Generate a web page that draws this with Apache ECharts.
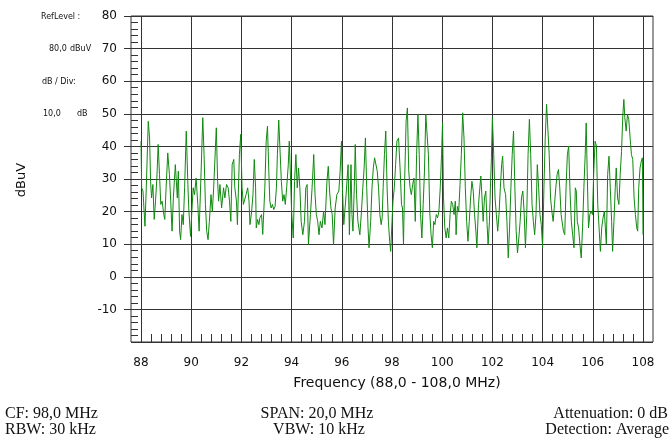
<!DOCTYPE html>
<html><head><meta charset="utf-8">
<script src="https://cdn.jsdelivr.net/npm/echarts@6/dist/echarts.min.js"></script>
<style>html,body{margin:0;padding:0;background:#fff}#c{width:670px;height:443px}</style>
</head><body><div id="c"></div>
<script>
// Frequency (MHz) of each trace vertex
const frequencies = [
88.000,88.026,88.079,88.158,88.211,88.289,88.342,88.382,88.421,88.474,88.526,88.579,88.632,88.684,88.737,88.789,88.842,88.908,88.947,89.000,
89.066,89.132,89.184,89.237,89.289,89.368,89.447,89.487,89.539,89.579,89.632,89.684,89.737,89.803,89.868,89.908,89.974,90.026,90.079,90.132,
90.197,90.263,90.316,90.395,90.461,90.513,90.566,90.618,90.671,90.724,90.789,90.842,90.895,91.000,91.053,91.092,91.145,91.211,91.289,91.342,
91.408,91.474,91.526,91.579,91.632,91.697,91.737,91.803,91.842,91.921,91.974,92.026,92.079,92.184,92.250,92.303,92.342,92.408,92.461,92.513,
92.566,92.592,92.645,92.697,92.737,92.803,92.850,92.934,92.987,93.039,93.092,93.132,93.184,93.237,93.289,93.342,93.395,93.434,93.487,93.539,
93.592,93.645,93.697,93.750,93.803,93.868,93.908,93.961,94.000,94.066,94.118,94.171,94.224,94.276,94.329,94.382,94.447,94.513,94.566,94.618,
94.671,94.750,94.816,94.882,94.934,94.987,95.039,95.092,95.145,95.211,95.276,95.329,95.408,95.461,95.513,95.566,95.618,95.671,95.737,95.803,
95.882,95.934,95.987,96.026,96.079,96.171,96.250,96.303,96.366,96.405,96.444,96.497,96.536,96.588,96.641,96.719,96.784,96.837,96.889,96.941,
96.993,97.046,97.085,97.150,97.203,97.255,97.307,97.359,97.412,97.464,97.516,97.569,97.608,97.647,97.699,97.752,97.804,97.856,97.908,97.948,
98.000,98.039,98.092,98.144,98.196,98.261,98.327,98.379,98.418,98.458,98.497,98.562,98.614,98.667,98.719,98.771,98.824,98.876,98.928,98.980,
99.033,99.085,99.137,99.190,99.242,99.294,99.346,99.399,99.451,99.503,99.556,99.608,99.660,99.712,99.765,99.817,99.869,99.922,99.974,100.013,
100.052,100.105,100.157,100.209,100.261,100.314,100.366,100.418,100.471,100.523,100.553,100.605,100.658,100.711,100.763,100.816,100.868,100.921,100.974,101.026,
101.079,101.132,101.184,101.237,101.289,101.342,101.382,101.447,101.500,101.539,101.579,101.632,101.684,101.737,101.789,101.829,101.882,101.921,101.961,102.000,
102.053,102.105,102.158,102.211,102.263,102.316,102.368,102.408,102.461,102.526,102.579,102.632,102.684,102.737,102.789,102.842,102.895,102.947,103.000,103.053,
103.105,103.158,103.211,103.263,103.316,103.368,103.421,103.474,103.526,103.579,103.632,103.684,103.737,103.789,103.842,103.895,103.947,104.000,104.053,104.105,
104.158,104.211,104.263,104.316,104.368,104.421,104.474,104.526,104.579,104.632,104.684,104.737,104.776,104.829,104.882,104.934,104.987,105.039,105.092,105.145,
105.197,105.250,105.303,105.342,105.382,105.434,105.487,105.539,105.592,105.645,105.697,105.737,105.776,105.829,105.882,105.934,105.987,106.039,106.092,106.145,
106.197,106.250,106.303,106.355,106.408,106.461,106.500,106.539,106.592,106.645,106.697,106.750,106.789,106.842,106.895,106.934,106.987,107.039,107.092,107.145,
107.197,107.237,107.276,107.329,107.382,107.434,107.487,107.539,107.592,107.645,107.697,107.750,107.789,107.829,107.882,107.934,107.974,107.990,108.000
];
// Level (dBuV) of each trace vertex
const levels = [
41.6,27.3,26.3,15.5,27.3,47.7,42.6,29.3,24.2,28.3,17.6,23.2,30.3,40.6,31.4,22.2,23.2,19.1,17.6,27.3,
38.0,31.4,23.2,14.0,24.2,34.4,24.2,32.4,14.0,11.4,19.1,16.0,27.3,44.7,28.3,20.1,12.4,20.1,27.3,25.2,
30.3,22.2,14.0,32.4,48.8,37.5,22.2,14.0,11.4,17.0,25.2,20.1,27.3,45.7,29.3,23.2,28.3,21.1,27.3,24.2,
28.3,27.3,23.2,17.0,34.4,36.0,27.3,23.2,16.0,37.5,43.7,27.3,22.2,25.2,27.3,23.2,16.0,20.1,25.2,36.0,
27.3,15.0,17.6,16.0,18.1,19.1,13.0,27.3,41.6,46.2,32.4,23.2,21.1,22.2,20.6,21.6,27.3,37.5,48.1,48.5,
29.3,23.2,25.2,22.2,27.3,34.4,41.6,29.3,20.1,11.9,29.3,37.5,27.3,33.4,27.3,17.0,12.9,17.0,27.3,28.3,
9.9,19.1,27.3,37.5,25.2,19.1,17.0,12.9,17.0,15.0,20.1,16.0,29.3,33.9,26.3,21.1,19.1,9.9,21.1,25.2,
26.3,32.4,41.6,27.3,16.0,25.2,34.4,12.9,34.4,19.1,14.0,27.3,40.6,25.2,17.0,12.9,20.1,27.3,33.4,42.6,
27.3,15.0,8.9,17.0,27.3,33.4,36.5,36.0,32.4,27.3,19.1,16.0,18.1,27.3,37.5,44.7,27.3,17.0,10.9,7.8,
17.0,23.2,27.3,34.4,41.6,42.6,32.4,22.2,21.1,10.0,27.3,47.7,51.8,32.4,27.3,25.2,28.3,30.3,17.0,37.5,
49.8,37.5,19.1,11.9,22.2,32.4,49.8,50.3,37.5,20.1,12.9,8.9,17.0,16.0,19.1,18.1,20.1,27.3,37.5,47.2,
24.2,15.0,11.9,15.0,11.9,19.1,23.2,22.2,19.1,23.2,12.9,21.6,20.1,28.3,37.5,50.3,42.6,27.3,17.0,10.9,
17.0,24.2,29.3,26.3,19.1,14.0,8.9,22.2,27.3,30.9,25.2,17.0,24.2,26.3,16.0,9.9,17.0,27.3,36.5,48.8,
37.5,24.2,19.1,14.0,19.1,27.3,34.4,37.0,27.3,25.2,17.0,5.8,15.0,27.3,37.5,44.7,27.3,14.0,7.3,11.9,
17.0,24.2,26.3,20.1,8.9,19.1,37.5,48.3,37.5,22.2,17.0,12.9,19.1,34.4,27.3,19.1,16.0,9.0,27.3,42.6,
52.9,52.4,37.5,24.2,20.1,17.0,22.2,27.3,31.4,32.9,27.3,19.1,19.1,14.0,12.9,27.3,37.5,40.1,26.3,17.0,
12.9,8.9,27.3,26.3,17.0,15.0,9.9,5.8,15.0,27.3,37.5,47.2,32.4,15.0,19.1,20.1,19.1,32.4,41.6,40.1,
22.2,15.0,7.8,15.0,18.1,20.1,15.0,9.9,31.4,37.0,27.3,17.0,7.8,17.0,27.3,33.4,24.2,22.2,31.4,38.5,
49.8,54.4,48.8,44.7,49.8,48.3,42.6,37.5,36.0,24.2,19.1,15.0,14.0,27.3,33.4,35.5,36.5,24.2,12.9
];
const xTickValues = [88,90,92,94,96,98,100,102,104,106,108];
const yTickValues = [-10,0,10,20,30,40,50,60,70,80];
const refLevelText = ['RefLevel :', '80,0', 'dBuV', 'dB / Div:', '10,0', 'dB'];
const yAxisTitle = 'dBuV';
const xAxisTitle = 'Frequency (88,0 - 108,0 MHz)';
const footerLeft = ['CF: 98,0 MHz', 'RBW: 30 kHz'];
const footerCenter = ['SPAN: 20,0 MHz', 'VBW: 10 kHz'];
const footerRight = ['Attenuation: 0 dB', 'Detection: Average'];

const trace = frequencies.map((f, i) => [f, levels[i]]);
const lineCol = '#333';
const sans = '"DejaVu Sans", sans-serif';
const serif = '"Liberation Serif", serif';

const chart = echarts.init(document.getElementById('c'), null, {renderer: 'canvas'});
const txt = (text, x, y, font, align, extra) => Object.assign({
  type: 'text', x: x, y: y, silent: true,
  style: {text: text, font: font, fill: '#111', align: align || 'left', verticalAlign: 'middle',
          textAlign: align || 'left', textVerticalAlign: 'middle'}
}, extra || {});

chart.setOption({
  animation: false,
  backgroundColor: '#fff',
  grid: [
    {left: 131, right: 17, top: 16, bottom: 101, show: true, borderColor: lineCol, borderWidth: 1, backgroundColor: 'transparent'},
    {left: 141, right: 27, top: 16, bottom: 101}
  ],
  xAxis: [
    {gridIndex: 0, type: 'value', min: 87.6, max: 108.4, show: false},
    {gridIndex: 1, type: 'value', min: 88, max: 108, interval: 2, position: 'bottom',
     axisLine: {show: false},
     axisTick: {show: true, length: 10, lineStyle: {color: lineCol}},
     axisLabel: {margin: 15, fontFamily: sans, fontSize: 12, color: '#111',
                 customValues: xTickValues},
     splitLine: {show: true, lineStyle: {color: lineCol, width: 1}}},
    {gridIndex: 1, type: 'value', min: 88, max: 108, interval: 2, position: 'bottom',
     axisLine: {show: false},
     axisTick: {show: true, inside: true, length: 8, lineStyle: {color: lineCol}},
     minorTick: {show: true, splitNumber: 5, length: 8, lineStyle: {color: lineCol, width: 1}},
     axisLabel: {show: false}, splitLine: {show: false}}
  ],
  yAxis: [
    {gridIndex: 0, type: 'value', min: -20, max: 80, interval: 10, position: 'left',
     axisLine: {show: false},
     axisTick: {show: true, length: 7, lineStyle: {color: lineCol}},
     axisLabel: {margin: 14, fontFamily: sans, fontSize: 12, color: '#111', showMinLabel: false},
     splitLine: {show: true, lineStyle: {color: lineCol, width: 1}}},
    {gridIndex: 0, type: 'value', min: -20, max: 80, interval: 10, position: 'left',
     axisLine: {show: false},
     axisTick: {show: true, inside: true, length: 7, lineStyle: {color: lineCol}},
     minorTick: {show: true, splitNumber: 5, length: 7, lineStyle: {color: lineCol, width: 1}},
     axisLabel: {show: false}, splitLine: {show: false}},
    {gridIndex: 1, type: 'value', min: -20, max: 80, show: false}
  ],
  series: [{
    type: 'line', xAxisIndex: 1, yAxisIndex: 2, data: trace,
    symbol: 'none', showSymbol: false,
    lineStyle: {color: '#108a10', width: 1}, z: 5
  }],
  graphic: [
    txt(refLevelText[0], 41, 17, '8px ' + sans),
    txt(refLevelText[1], 49, 49, '8px ' + sans),
    txt(refLevelText[2], 70, 49, '8px ' + sans),
    txt(refLevelText[3], 42, 82, '8px ' + sans),
    txt(refLevelText[4], 43, 114, '8px ' + sans),
    txt(refLevelText[5], 77, 114, '8px ' + sans),
    txt(yAxisTitle, 22, 180, '13px ' + sans, 'center', {rotation: Math.PI / 2}),
    txt(xAxisTitle, 397, 383, '14px ' + sans, 'center'),
    txt(footerLeft[0], 5, 414, '16px ' + serif),
    txt(footerLeft[1], 5, 430, '16px ' + serif),
    txt(footerCenter[0], 317, 414, '16px ' + serif, 'center'),
    txt(footerCenter[1], 319, 430, '16px ' + serif, 'center'),
    txt(footerRight[0], 668, 414, '16px ' + serif, 'right'),
    txt(footerRight[1], 669, 430, '16px ' + serif, 'right')
  ]
});
</script>
</body></html>
